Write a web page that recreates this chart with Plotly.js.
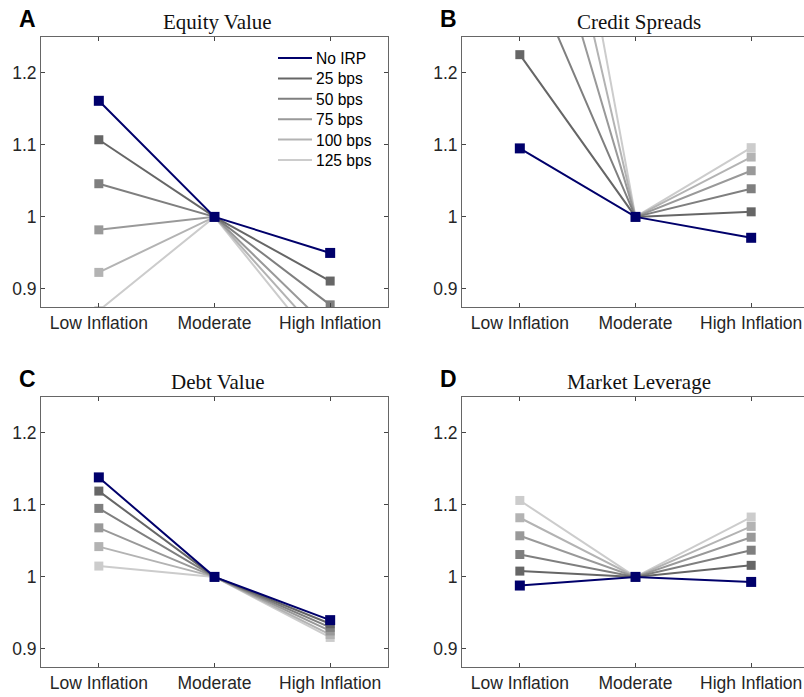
<!DOCTYPE html>
<html>
<head>
<meta charset="utf-8">
<script src="https://cdn.plot.ly/plotly-3.0.1.min.js"></script>
<style>
html,body{margin:0;padding:0;overflow:hidden;background:#fff;}
#chart{width:812px;height:697px;}
</style>
</head>
<body>
<div id="chart"></div>
<script>
// ---- data ----
const categories = ['Low Inflation', 'Moderate', 'High Inflation'];
const seriesNames = ['No IRP', '25 bps', '50 bps', '75 bps', '100 bps', '125 bps'];
const seriesColors = ['#00006b', '#666666', '#7f7f7f', '#999999', '#b3b3b3', '#cccccc'];
const yTickVals = [0.9, 1, 1.1, 1.2];
const yTickText = ['0.9', '1', '1.1', '1.2'];

// rows follow seriesNames order
const equityValue = [
  [1.161, 1, 0.950],
  [1.107, 1, 0.911],
  [1.046, 1, 0.878],
  [0.982, 1, 0.844],
  [0.923, 1, 0.821],
  [0.870, 1, 0.801]
];
const creditSpreads = [
  [1.095, 1, 0.971],
  [1.225, 1, 1.007],
  [1.373, 1, 1.039],
  [1.543, 1, 1.064],
  [1.697, 1, 1.083],
  [1.872, 1, 1.096]
];
const debtValue = [
  [1.138, 1, 0.940],
  [1.119, 1, 0.935],
  [1.095, 1, 0.930],
  [1.068, 1, 0.925],
  [1.042, 1, 0.920],
  [1.015, 1, 0.916]
];
const marketLeverage = [
  [0.988, 1, 0.993],
  [1.008, 1, 1.016],
  [1.031, 1, 1.037],
  [1.057, 1, 1.055],
  [1.082, 1, 1.070],
  [1.106, 1, 1.083]
];

const panelTitles = ['Equity Value', 'Credit Spreads', 'Debt Value', 'Market Leverage'];
const panelLetters = ['A', 'B', 'C', 'D'];
const panelData = [equityValue, creditSpreads, debtValue, marketLeverage];

// ---- layout geometry (pixels) ----
const W = 812, H = 697;
const px = x => x / W;
const py = y => 1 - y / H;
const boxes = [
  {l: 41, r: 388, t: 37, b: 307},
  {l: 462, r: 809, t: 37, b: 307},
  {l: 41, r: 388, t: 397, b: 667},
  {l: 462, r: 809, t: 397, b: 667}
];

const traces = [];
panelData.forEach((rows, p) => {
  const ax = p === 0 ? '' : String(p + 1);
  for (let i = rows.length - 1; i >= 0; i--) {
    traces.push({
      x: categories, y: rows[i], type: 'scatter', mode: 'lines+markers',
      name: seriesNames[i], showlegend: false,
      line: {color: seriesColors[i], width: 2},
      marker: {symbol: 'square', size: i === 0 ? 10 : 9, color: seriesColors[i]},
      xaxis: 'x' + ax, yaxis: 'y' + ax, cliponaxis: true
    });
  }
});

const tickFont = {family: 'Liberation Sans, Arial, sans-serif', size: 17.5, color: '#262626'};
const layout = {
  width: W, height: H,
  margin: {l: 0, r: 0, t: 0, b: 0},
  paper_bgcolor: '#ffffff', plot_bgcolor: '#ffffff',
  showlegend: false,
  annotations: [],
  shapes: [],
  font: {family: 'Liberation Sans, Arial, sans-serif'}
};

boxes.forEach((b, p) => {
  const ax = p === 0 ? '' : String(p + 1);
  layout['xaxis' + ax] = {
    domain: [px(b.l), px(b.r)], anchor: 'y' + ax,
    type: 'category', range: [-0.5, 2.5],
    showline: true, mirror: 'ticks', linecolor: '#666', linewidth: 1,
    ticks: 'inside', ticklen: 4, tickcolor: '#444', tickwidth: 1,
    showgrid: false, zeroline: false, tickfont: tickFont, fixedrange: true
  };
  layout['yaxis' + ax] = {
    domain: [py(b.b), py(b.t)], anchor: 'x' + ax,
    range: [0.875, 1.2495], tickvals: yTickVals, ticktext: yTickText,
    showline: true, mirror: 'ticks', linecolor: '#666', linewidth: 1,
    ticks: 'inside', ticklen: 4, tickcolor: '#444', tickwidth: 1,
    showgrid: false, zeroline: false, tickfont: tickFont, fixedrange: true
  };
  layout.annotations.push({
    xref: 'paper', yref: 'paper', x: px((b.l + b.r) / 2 + 3), y: py(b.t - 15),
    xanchor: 'center', yanchor: 'middle', showarrow: false,
    text: panelTitles[p],
    font: {family: 'Liberation Serif, DejaVu Serif, serif', size: 21, color: '#111'}
  });
  layout.annotations.push({
    xref: 'paper', yref: 'paper', x: px(b.l - 24), y: py(b.t - 18),
    xanchor: 'left', yanchor: 'middle', showarrow: false,
    text: '<b>' + panelLetters[p] + '</b>',
    font: {family: 'Liberation Sans, Arial, sans-serif', size: 23, color: '#000'}
  });
});

// legend (inside panel A, top right), line samples + labels
const legX0 = 278, legX1 = 312, legTextX = 314, legY0 = 58, legStep = 20.4;
seriesNames.forEach((name, i) => {
  const y = legY0 + i * legStep;
  layout.shapes.push({
    type: 'line', xref: 'paper', yref: 'paper',
    x0: px(legX0), x1: px(legX1), y0: py(y), y1: py(y),
    line: {color: seriesColors[i], width: 2}
  });
  layout.annotations.push({
    xref: 'paper', yref: 'paper', x: px(legTextX), y: py(y + 0.5),
    xanchor: 'left', yanchor: 'middle', showarrow: false, text: name,
    font: {family: 'Liberation Sans, Arial, sans-serif', size: 15.6, color: '#000'}
  });
});

Plotly.newPlot('chart', traces, layout, {displayModeBar: false, staticPlot: true});
</script>
</body>
</html>
